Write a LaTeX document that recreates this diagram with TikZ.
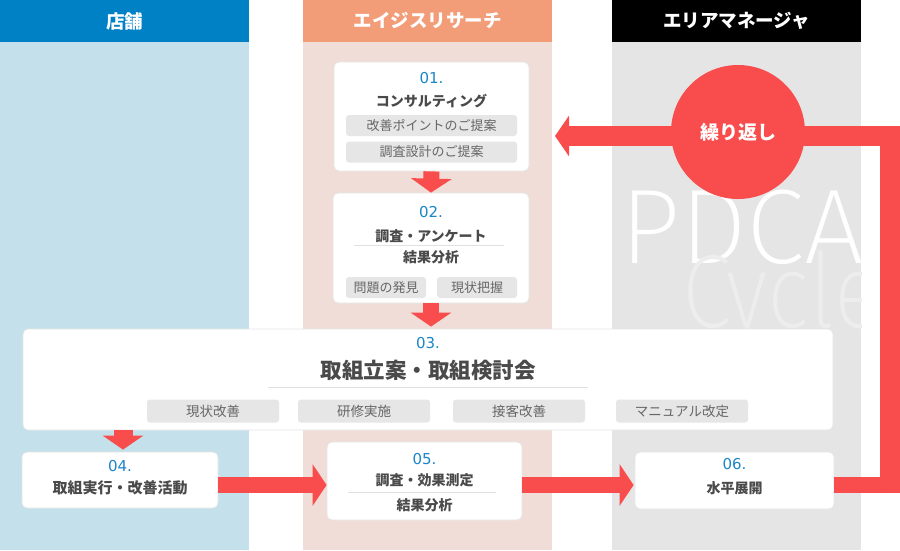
\documentclass[tikz,border=0pt]{standalone}
\usepackage{fontspec}
\setmainfont{Noto Sans CJK JP}
\newfontfamily\numfont{DejaVu Sans}
\newfontfamily\thinfont{Fira Sans ExtraLight}
\usetikzlibrary{arrows.meta,calc}
\definecolor{storehead}{HTML}{0080C5}
\definecolor{storebody}{HTML}{C4E1EB}
\definecolor{aghead}{HTML}{F39C78}
\definecolor{agbody}{HTML}{F0DDD8}
\definecolor{amhead}{HTML}{000000}
\definecolor{ambody}{HTML}{E5E5E5}
\definecolor{flowred}{HTML}{F94C4C}
\definecolor{tagfill}{HTML}{E6E6E6}
\definecolor{tagtext}{HTML}{666666}
\definecolor{titletext}{HTML}{4A4A4A}
\definecolor{numblue}{HTML}{1A86C8}
\definecolor{sepline}{HTML}{E0E0E0}
\definecolor{cyclegray}{HTML}{EDEDED}
\newcommand{\fsz}[1]{\fontsize{#1}{#1}\selectfont}
\begin{document}
\begin{tikzpicture}[x=1pt,y=-1pt,
  hdr/.style={text=white,font=\fsz{18.5}\bfseries,inner sep=0pt},
  card/.style={draw=black!10,line width=0.8pt,fill=white,rounded corners=5pt,inner sep=0pt},
  num/.style={text=numblue,font=\numfont\fsz{15},inner sep=0pt},
  ttl/.style={text=titletext,font=\fsz{14}\bfseries,inner sep=0pt},
  tag/.style={fill=tagfill,rounded corners=3pt,text=tagtext,font=\fsz{13},inner sep=0pt,minimum height=21pt},
  sep/.style={draw=sepline,line width=1pt},
  flow/.style={draw=flowred,line width=16pt,-{Triangle[width=40pt,length=14pt]}},
  hflow/.style={draw=flowred,line width=16pt,-{Triangle[width=41pt,length=14pt]}}
]
\useasboundingbox (0,0) rectangle (900,550);
% columns
\fill[storebody] (0,42) rectangle (249,550);
\fill[storehead] (0,0) rectangle (249,42);
\fill[agbody] (303,42) rectangle (552,550);
\fill[aghead] (303,0) rectangle (552,42);
\fill[ambody] (612,42) rectangle (861,550);
\fill[amhead] (612,0) rectangle (861,42);
\node[hdr] (h1) at (124.5,21) {店舗};
\node[hdr] (h2) at (427.5,21) {エイジスリサーチ};
\node[hdr] (h3) at (736.5,21) {エリアマネージャ};
% PDCA background text
\begin{scope}
\clip (612,42) rectangle (861,550);
\node[anchor=base west,inner sep=0pt,text=white,font=\thinfont\fsz{106}] (pdca) at (620,263) {PDCA};
\node[anchor=base west,inner sep=0pt,text=cyclegray,font=\thinfont\fsz{104}] (cycle) at (682,327) {\scalebox{0.86}[1]{Cycle}};
\end{scope}
% cards
\node[card,minimum width=195pt,minimum height=109pt] (b1) at (431.5,116.5) {};
\node[num] (n1) at (431.5,78) {01.};
\node[ttl] (t1) at (431.5,101) {コンサルティング};
\node[tag,minimum width=171pt] (g1a) at (431.5,125.5) {改善ポイントのご提案};
\node[tag,minimum width=171pt] (g1b) at (431.5,152) {調査設計のご提案};

\node[card,minimum width=196pt,minimum height=110pt] (b2) at (431,248) {};
\node[num] (n2) at (431,212) {02.};
\node[ttl] (t2a) at (431,236) {調査・アンケート};
\draw[sep] (354,245) -- (504,245);
\node[ttl] (t2b) at (431,257) {結果分析};
\node[tag,minimum width=80pt] (g2a) at (386,287.5) {問題の発見};
\node[tag,minimum width=80pt] (g2b) at (477,287.5) {現状把握};

\node[card,minimum width=810pt,minimum height=101pt] (b3) at (428,379.5) {};
\node[num] (n3) at (428,343) {03.};
\node[ttl,font=\fsz{21.5}\bfseries] (t3) at (428,370) {取組立案・取組検討会};
\draw[sep] (268,387.5) -- (588,387.5);
\node[tag,minimum width=132pt,minimum height=23pt,font=\fsz{13.5}] (g3a) at (213,411) {現状改善};
\node[tag,minimum width=132pt,minimum height=23pt,font=\fsz{13.5}] (g3b) at (364,411) {研修実施};
\node[tag,minimum width=132pt,minimum height=23pt,font=\fsz{13.5}] (g3c) at (519,411) {接客改善};
\node[tag,minimum width=132pt,minimum height=23pt,font=\fsz{13.5}] (g3d) at (682,411) {マニュアル改定};

\node[card,minimum width=196pt,minimum height=56pt] (b4) at (120,480) {};
\node[num] (n4) at (120,466) {04.};
\node[ttl,font=\fsz{15}\bfseries] (t4) at (120,488) {取組実行・改善活動};

\node[card,minimum width=195pt,minimum height=78pt] (b5) at (424.5,481) {};
\node[num] (n5) at (424.5,459) {05.};
\node[ttl] (t5a) at (424.5,480) {調査・効果測定};
\draw[sep] (348,492.5) -- (496,492.5);
\node[ttl] (t5b) at (424.5,505) {結果分析};

\node[card,minimum width=199pt,minimum height=57pt] (b6) at (734.5,480.5) {};
\node[num] (n6) at (734.5,464) {06.};
\node[ttl] (t6) at (734.5,488) {水平展開};

% flow arrows
\draw[flow] (b1.south) -- (b2.north);
\draw[flow,shorten >=2pt] (b2.south) -- (b2.south |- b3.north);
\draw[flow,line width=19pt,shorten >=2pt] (b3.south -| 123,0) -- (b4.north -| 123,0);
\draw[hflow] ($(b4.east)+(0,5)$) -- ($(b5.west)+(0,4)$);
\draw[hflow,shorten >=1pt] ($(b5.east)+(0,4)$) -- ($(b6.west)+(0,4.5)$);
% repeat loop
\coordinate (lpb) at (890,485);
\coordinate (lpt) at (890,136);
\coordinate (ret) at (555,136);
\draw[draw=flowred,line width=16pt] ($(b6.east)+(0,4.5)$) -- (lpb);
\draw[draw=flowred,line width=20pt,-{Triangle[width=40pt,length=14pt]}] ($(lpb)+(0,8)$) -- (lpt) -- (ret);
\node[circle,fill=flowred,minimum size=134pt,inner sep=0pt,text=white,font=\fsz{19}\bfseries] (rep) at (738,132) {繰り返し};
\end{tikzpicture}
\end{document}
